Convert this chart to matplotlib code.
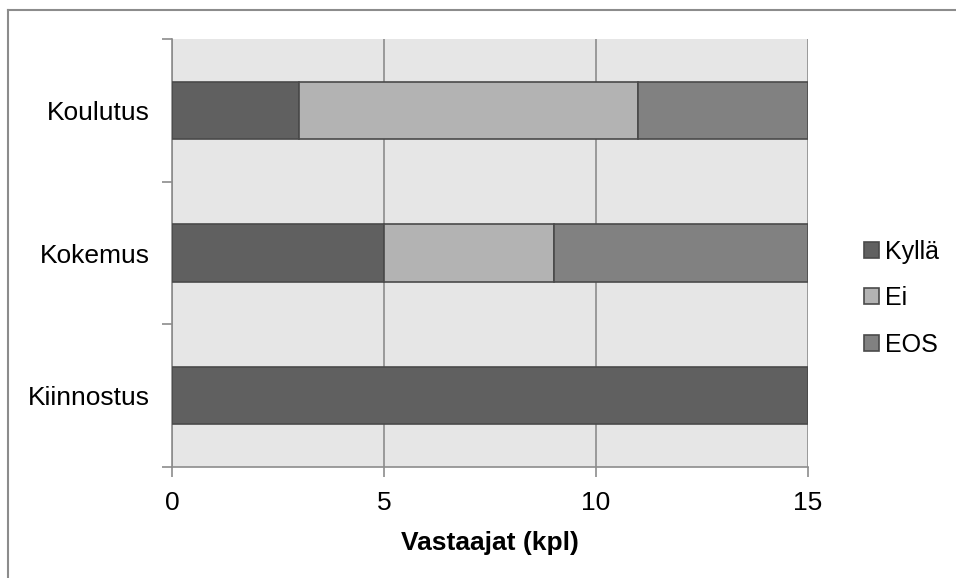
import numpy as np
import matplotlib
matplotlib.use('Agg')
import matplotlib.pyplot as plt
from matplotlib.patches import Rectangle

plt.rcParams['font.family'] = ['Liberation Sans', 'DejaVu Sans']

categories = ['Kiinnostus', 'Kokemus', 'Koulutus']
kylla = [15, 5, 3]
ei = [0, 4, 8]
eos = [0, 6, 4]
series = [('Kyllä', kylla, '#606060'), ('Ei', ei, '#b3b3b3'), ('EOS', eos, '#818181')]

fig = plt.figure(figsize=(9.56, 5.78), dpi=100)
ax = fig.add_axes([0.1799, 0.192, 0.6653, 0.7405])
ax.set_facecolor('#e6e6e6')

# outer chart frame (top and left edges visible)
fig.add_artist(plt.Line2D([8/956, 1], [1-10/578, 1-10/578], color='#8c8c8c', lw=1.5, transform=fig.transFigure))
fig.add_artist(plt.Line2D([8/956, 8/956], [0, 1-10/578], color='#8c8c8c', lw=1.5, transform=fig.transFigure))

y = np.arange(len(categories))
left = np.zeros(len(categories))
handles = []
for name, vals, col in series:
    vals = np.array(vals, dtype=float)
    ax.barh(y, vals, left=left, height=0.4, color=col, edgecolor='#4a4a4a', linewidth=1.2, zorder=3)
    left += vals
    handles.append(Rectangle((0, 0), 1, 1, facecolor=col, edgecolor='#4a4a4a', linewidth=1.2))

ax.set_xlim(0, 15)
ax.set_ylim(-0.5, len(categories) - 0.5)
ax.set_xticks([0, 5, 10, 15])
ax.set_yticks(y)
ax.set_yticklabels(categories)
ax.set_yticks(np.arange(-0.5, len(categories)), minor=True)
ax.tick_params(axis='y', which='major', length=0, pad=16, labelsize=19)
ax.tick_params(axis='y', which='minor', length=7, color='#8c8c8c', width=1.2)
ax.tick_params(axis='x', length=7, color='#8c8c8c', width=1.2, labelsize=19, pad=10)
ax.xaxis.grid(True, color='#8c8c8c', lw=1.2, zorder=1)
ax.set_axisbelow(True)
for s in ['top', 'right']:
    ax.spines[s].set_visible(False)
for s in ['left', 'bottom']:
    ax.spines[s].set_color('#8c8c8c')
    ax.spines[s].set_linewidth(1.2)

ax.set_xlabel('Vastaajat (kpl)', fontsize=19, fontweight='bold', labelpad=12)

fig.legend(handles, [s[0] for s in series], loc='center left', bbox_to_anchor=(0.9038, 0.4844),
           frameon=False, fontsize=18, handlelength=0.6, handleheight=0.6,
           handletextpad=0.25, labelspacing=0.9, borderaxespad=0, borderpad=0)

fig.savefig('out.png', dpi=100)
